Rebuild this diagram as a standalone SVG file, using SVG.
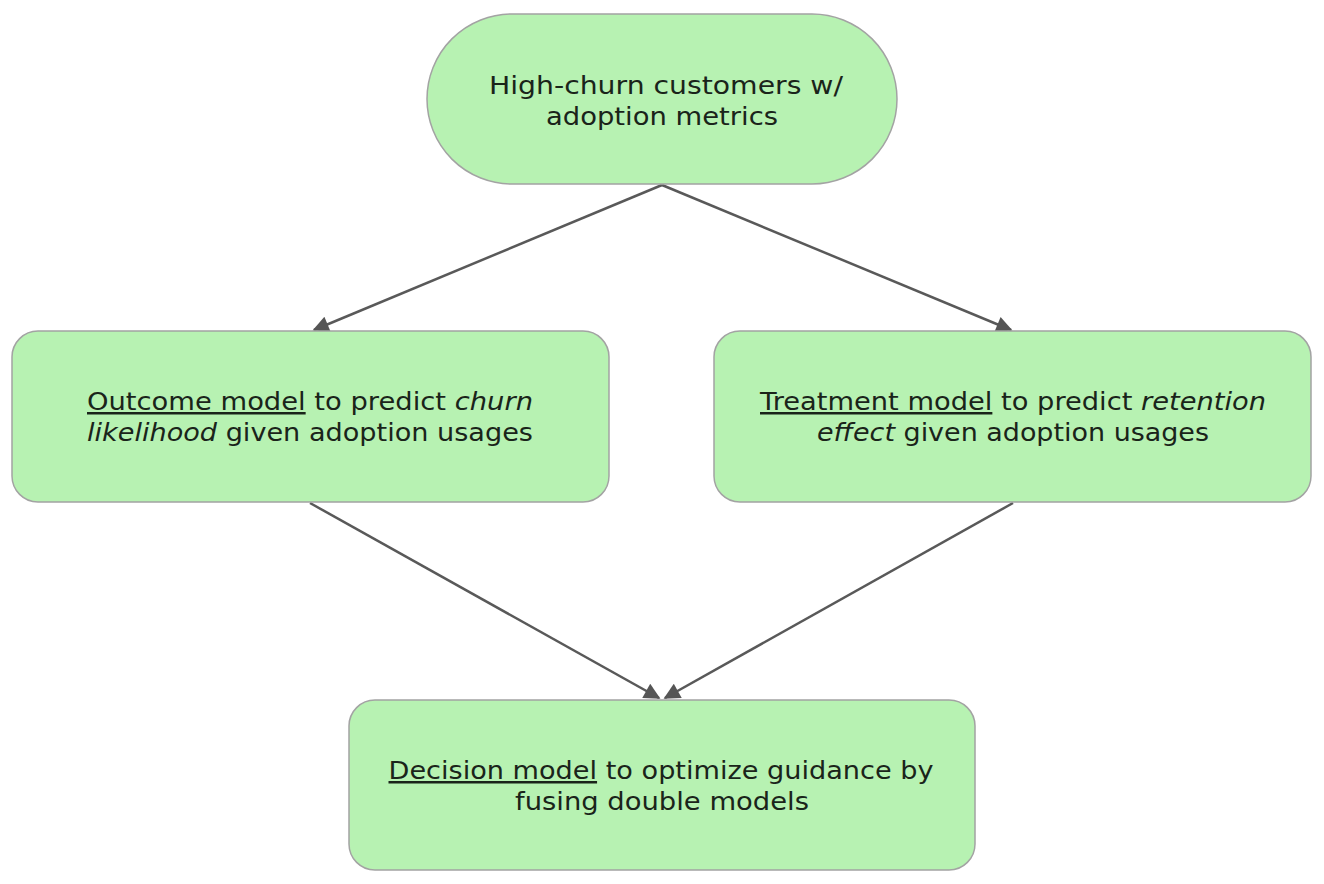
<svg xmlns="http://www.w3.org/2000/svg" width="1324" height="884" viewBox="0 0 1324 884">
<defs>
<style>
.box{fill:#b7f2b2;stroke:#a3a3a3;stroke-width:1.5}
.t{font-family:"DejaVu Sans","Noto Sans","Liberation Sans",sans-serif;font-size:25px;fill:#1a241a;text-anchor:middle}
.u{text-decoration:underline}
.i{font-style:italic}
.c{stroke:#595959;stroke-width:2.5;fill:none;marker-end:url(#ah)}
</style>
<marker id="ah" viewBox="0 0 10 10" refX="9" refY="5" markerWidth="7.5" markerHeight="6.5" markerUnits="strokeWidth" orient="auto">
<path d="M0,0 L10,5 L0,10 z" fill="#555555"/>
</marker>
</defs>
<rect width="1324" height="884" fill="#ffffff"/>
<g id="connectors">
<line class="c" x1="662" y1="185" x2="314" y2="330"/>
<line class="c" x1="662" y1="185" x2="1011" y2="330"/>
<line class="c" x1="310" y1="503" x2="659" y2="698"/>
<line class="c" x1="1013" y1="503" x2="665" y2="698"/>
</g>
<g id="n1">
<rect class="box" x="427" y="14" width="470" height="170" rx="85"/>
<text class="t" x="666" y="94" textLength="354" lengthAdjust="spacingAndGlyphs">High-churn customers w/</text>
<text class="t" x="662" y="125" textLength="232" lengthAdjust="spacingAndGlyphs">adoption metrics</text>
</g>
<g id="n2">
<rect class="box" x="12" y="331" width="597" height="171" rx="26"/>
<text class="t" x="310" y="410" textLength="446" lengthAdjust="spacingAndGlyphs"><tspan class="u">Outcome model</tspan> to predict <tspan class="i">churn</tspan></text>
<text class="t" x="310" y="441" textLength="446" lengthAdjust="spacingAndGlyphs"><tspan class="i">likelihood</tspan> given adoption usages</text>
</g>
<g id="n3">
<rect class="box" x="714" y="331" width="597" height="171" rx="26"/>
<text class="t" x="1013" y="410" textLength="506" lengthAdjust="spacingAndGlyphs"><tspan class="u">Treatment model</tspan> to predict <tspan class="i">retention</tspan></text>
<text class="t" x="1013" y="441" textLength="392" lengthAdjust="spacingAndGlyphs"><tspan class="i">effect</tspan> given adoption usages</text>
</g>
<g id="n4">
<rect class="box" x="349" y="700" width="626" height="170" rx="26"/>
<text class="t" x="661" y="779" textLength="545" lengthAdjust="spacingAndGlyphs"><tspan class="u">Decision model</tspan> to optimize guidance by</text>
<text class="t" x="662" y="810" textLength="294" lengthAdjust="spacingAndGlyphs">fusing double models</text>
</g>
</svg>
